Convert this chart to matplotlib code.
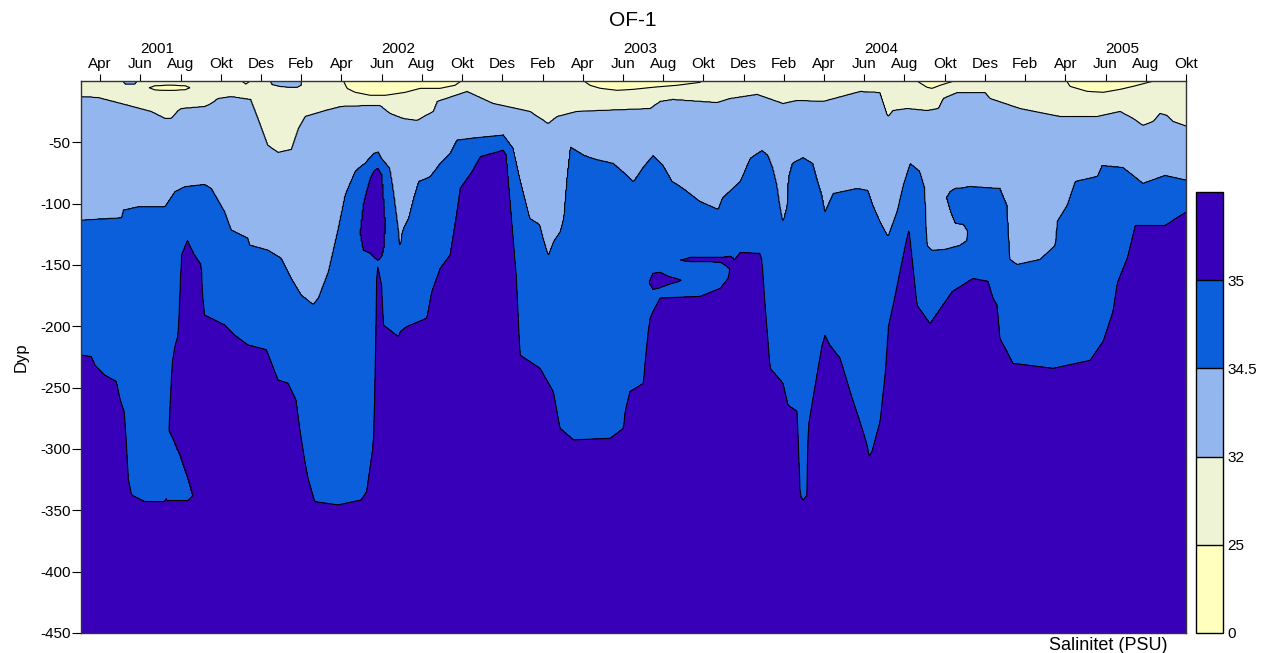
import numpy as np
import matplotlib
matplotlib.use('Agg')
import matplotlib.pyplot as plt

plt.rcParams['font.family'] = ['Liberation Sans', 'DejaVu Sans']
plt.rcParams['axes.unicode_minus'] = False

# tid: maaneder etter 1. jan 2001, dyp: meter under overflaten

# 25-isohalinen (negativ = ikke til stede ved overflaten)
t25 = [2.0, 9.9, 9.95, 10.25, 10.55, 10.6, 15.0, 15.08, 15.28, 15.68,
       16.43, 17.17, 18.17, 18.91, 19.91, 20.65, 21.05, 21.1, 26.9, 26.97,
       27.37, 27.86, 28.71, 29.5, 30.5, 31.69, 32.83, 33.0, 33.1, 43.45,
       43.53, 44.12, 44.37, 44.77, 45.67, 45.75, 50.95, 51.04, 51.23, 52.08,
       52.88, 53.72, 54.37, 55.61, 55.7, 57.1]
d25 = [-3, -3, -1, 2.5, -1, -3, -3, -1, 6.0, 9.2,
       11.7, 11.7, 9.2, 6.0, 6.0, 3.5, -1, -3, -3, -1,
       3.5, 5.9, 7.6, 6.8, 5.1, 3.5, 1.1, -1, -3, -3,
       -1, 5.1, 6.0, 3.5, -1, -3, -3, -1, 4.3, 8.4,
       9.2, 6.8, 4.3, -1, -3, -3]

# 32-isohalinen
t32 = [2.06, 2.9, 4.05, 5.54, 6.23, 6.53, 6.88, 7.03, 8.22, 8.52,
       8.87, 9.51, 10.5, 10.86, 11.35, 11.85, 12.5, 12.85, 13.19, 14.19,
       14.98, 16.33, 16.92, 17.42, 18.07, 18.76, 19.56, 19.76, 21.25, 22.54,
       24.38, 25.28, 25.72, 26.72, 27.86, 30.35, 30.85, 31.49, 33.68, 34.33,
       35.67, 36.96, 37.66, 38.95, 40.79, 41.79, 42.18, 42.43, 43.13, 44.12,
       44.67, 44.92, 45.62, 47.01, 47.26, 48.75, 50.74, 52.58, 53.72, 54.37,
       54.86, 55.36, 55.71, 56.06, 56.36, 57.05]
d32 = [12.5, 13.3, 18.2, 24.7, 30.4, 30.4, 23.9, 22.3, 20.6, 18.2,
       14.1, 12.5, 14.9, 30.4, 52.4, 58.1, 55.7, 38.6, 28.8, 23.9,
       20.6, 19.8, 19.8, 26.3, 30.4, 32.0, 24.7, 16.5, 8.4, 18.2,
       24.7, 34.5, 28.8, 24.7, 23.9, 22.3, 16.5, 14.9, 17.4, 14.1,
       10.8, 18.2, 15.7, 16.5, 8.4, 9.2, 28.8, 23.9, 22.3, 23.9,
       22.3, 14.1, 9.2, 9.2, 14.1, 22.3, 28.8, 28.8, 24.7, 30.4,
       36.1, 32.9, 26.3, 28.0, 32.9, 36.9]

# 34.5-isohalinen
t345 = [2.07, 4.06, 4.14, 4.89, 6.21, 6.71, 7.21, 8.2, 8.54, 9.2,
        9.53, 10.36, 10.44, 11.35, 12.01, 12.51, 13.01, 13.59, 13.84, 14.34,
        14.83, 15.17, 15.66, 15.93, 16.16, 16.59, 16.84, 17.0, 17.42, 17.58,
        17.75, 17.86, 17.92, 17.98, 18.08, 18.33, 18.58, 18.83, 19.41, 19.91,
        20.4, 20.74, 21.4, 23.05, 23.55, 23.88, 24.13, 24.38, 24.88, 25.04,
        25.29, 25.54, 25.87, 26.04, 26.2, 26.37, 27.03, 27.6, 28.53, 29.19,
        29.52, 30.02, 30.5, 31.0, 31.45, 31.99, 32.83, 33.73, 33.93, 34.83,
        35.32, 35.92, 36.22, 36.47, 36.67, 36.81, 36.96, 37.16, 37.21, 37.41,
        37.96, 38.45, 38.65, 38.9, 39.05, 39.45, 40.64, 41.19, 41.44, 41.79,
        42.18, 42.63, 42.93, 43.28, 43.77, 44.02, 44.12, 44.37, 45.02, 45.76,
        46.11, 46.26, 47.75, 48.1, 48.25, 48.6, 49.74, 50.49, 50.59, 51.08,
        51.48, 52.58, 52.82, 53.87, 54.37, 54.86, 55.96, 57.05]
d345 = [113.3, 111.4, 105.2, 102.4, 102.4, 90.2, 86.1, 84.2, 87.5, 106.5,
        121.5, 128.2, 133.7, 137.8, 144.5, 160.8, 174.5, 182.0, 177.1, 155.4,
        120.1, 92.9, 73.9, 69.8, 67.1, 58.9, 57.6, 63.0, 71.2, 87.5,
        109.2, 124.0, 137.8, 126.0, 120.0, 111.9, 95.6, 82.0, 77.9, 67.1,
        58.9, 48.1, 46.7, 44.0, 54.9, 79.3, 95.6, 111.9, 117.4, 128.2,
        141.8, 130.9, 122.8, 111.9, 79.3, 53.5, 60.3, 63.5, 67.1, 76.6,
        82.0, 69.8, 60.6, 68.7, 81.8, 87.5, 98.1, 104.6, 95.6, 81.8,
        63.0, 56.5, 60.6, 71.2, 85.0, 101.3, 114.4, 101.3, 79.3, 67.1,
        62.2, 67.1, 79.3, 93.2, 106.2, 91.6, 87.5, 89.1, 101.3, 114.4,
        126.6, 106.2, 85.0, 67.1, 73.6, 87.5, 134.0, 138.0, 137.2, 134.0,
        129.9, 85.9, 87.5, 101.3, 145.4, 149.5, 145.4, 134.0, 114.4, 101.3,
        81.8, 77.7, 68.7, 70.4, 76.9, 83.4, 76.9, 80.9]

# 35-isohalinen
t35 = [2.07, 2.57, 2.74, 3.23, 3.81, 3.98, 4.2, 4.31, 4.39, 4.56,
       5.22, 6.2, 6.33, 6.43, 6.58, 6.73, 6.88, 6.96, 7.04, 7.34,
       7.7, 8.04, 8.1, 8.2, 9.2, 9.69, 10.36, 11.27, 11.85, 12.35,
       12.75, 12.94, 13.19, 13.34, 13.67, 14.83, 15.99, 16.26, 16.59, 16.67,
       16.76, 16.85, 17.0, 17.09, 17.83, 17.92, 18.25, 19.24, 19.49, 19.91,
       20.4, 20.74, 20.9, 21.48, 21.9, 23.05, 23.21, 23.71, 23.88, 24.88,
       25.54, 25.87, 26.54, 28.37, 29.03, 29.11, 29.35, 30.02, 30.12, 30.25,
       30.35, 30.5, 30.85, 32.84, 33.83, 34.23, 34.33, 34.83, 35.82, 35.92,
       36.07, 36.32, 36.96, 37.21, 37.66, 37.81, 37.96, 38.16, 38.21, 38.45,
       38.9, 39.05, 39.3, 39.8, 39.95, 40.4, 40.89, 41.14, 41.24, 41.39,
       41.79, 42.05, 42.2, 42.53, 43.03, 43.23, 43.63, 44.27, 45.37, 46.41,
       47.16, 47.41, 47.61, 47.75, 48.4, 50.39, 52.23, 52.88, 53.37, 53.57,
       54.07, 54.47, 55.96, 57.05]
d35 = [223.4, 224.7, 231.5, 239.7, 245.0, 258.7, 270.0, 296.7, 323.9, 337.5,
       342.9, 342.9, 340.0, 283.0, 230.0, 215.0, 207.1, 174.5, 141.8, 129.6,
       141.8, 150.0, 174.5, 190.8, 198.9, 207.1, 215.2, 219.0, 243.7, 246.4,
       260.3, 284.8, 311.0, 323.9, 342.9, 345.6, 341.6, 334.7, 296.7, 250.5,
       150.0, 154.0, 166.3, 198.9, 208.4, 204.3, 200.2, 193.4, 171.7, 152.7,
       141.8, 106.5, 87.5, 73.9, 61.6, 56.2, 60.3, 160.8, 223.4, 234.2,
       253.2, 283.1, 292.6, 291.3, 283.1, 269.5, 253.2, 246.4, 226.0, 205.0,
       193.4, 187.7, 176.9, 175.5, 169.0, 160.8, 150.2, 139.7, 140.5, 146.2,
       182.8, 234.2, 246.4, 264.4, 269.3, 337.8, 341.8, 337.8, 283.1, 258.7,
       215.5, 207.3, 215.5, 226.1, 234.2, 258.7, 283.1, 297.0, 306.0, 301.9,
       277.4, 236.7, 200.0, 174.7, 133.9, 120.2, 182.8, 197.6, 171.5, 160.9,
       163.3, 177.1, 182.8, 209.8, 230.1, 234.2, 227.7, 212.2, 187.7, 164.9,
       144.5, 117.6, 117.6, 106.2]

# linser: (tid, topp, bunn, nivaa, +1 saltere / -1 ferskere)
lens_a = ([15.93, 16.08, 16.23, 16.43, 16.63, 16.82, 17.02, 17.12, 17.17],
          [124.0, 101.3, 90.8, 79.3, 72.8, 71.2, 76.9, 101.3, 117.6],
          [124.0, 138.0, 138.9, 140.5, 143.8, 146.2, 142.1, 134.0, 117.6], 35, 1)
lens_b = ([30.3, 30.5, 30.85, 31.25, 31.6, 31.9],
          [164.1, 156.8, 156.0, 159.3, 160.9, 162.5],
          [164.1, 169.9, 168.3, 165.8, 164.2, 162.5], 35, 1)
lens_c = ([31.84, 32.38, 33.12, 33.88, 34.33, 34.53],
          [146.2, 143.8, 143.8, 143.8, 142.9, 145.4],
          [146.2, 147.1, 147.1, 147.9, 153.0, 145.4], 35, 1)
lens_d = ([6.33, 6.58, 6.98, 7.38, 7.62],
          [283.0, 290.0, 305.0, 323.9, 338.0],
          [342.0, 342.0, 342.0, 342.0, 338.0], 35, -1)
lens_e = ([45.08, 45.27, 45.52, 45.92, 46.21, 46.36],
          [95.0, 90.0, 87.5, 87.0, 86.0, 86.0],
          [95.0, 106.0, 116.0, 117.0, 124.0, 128.0], 34.5, 1)
lens_p1 = ([3.94, 4.24, 4.74, 5.04],
           [-4.0, -4.0, -4.0, -4.0],
           [-4.0, 2.5, 2.5, -4.0], 32, 1)
lens_p2 = ([11.3, 11.55, 11.95, 12.45, 12.8, 13.0, 13.1],
           [-4.0, -4.0, -4.0, -4.0, -4.0, -4.0, -4.0],
           [-4.0, 3.0, 4.5, 5.3, 5.3, 3.5, -4.0], 32, 1)
lens_y = ([5.44, 5.73, 6.48, 7.23, 7.48],
          [5.5, 3.8, 3.3, 3.8, 5.5],
          [5.5, 7.4, 7.8, 7.2, 5.5], 25, -1)
lenses = [lens_a, lens_b, lens_c, lens_d, lens_e, lens_p1, lens_p2, lens_y]

levels = [0, 25, 32, 34.5, 35, 36]
colors = ['#FFFFBE', '#EDF3D4', '#94B6EE', '#0C5FDA', '#3800B8']
cbar_ticks = [0, 25, 32, 34.5, 35]
cbar_labels = ['0', '25', '32', '34.5', '35']

month_ticks = list(range(3, 58, 2))
month_names = ['Apr', 'Jun', 'Aug', 'Okt', 'Des', 'Feb']
month_labels = [month_names[i % 6] for i in range(len(month_ticks))]
year_pos = [5.85, 17.85, 29.85, 41.85, 53.85]
year_labels = ['2001', '2002', '2003', '2004', '2005']
depth_ticks = [-50, -100, -150, -200, -250, -300, -350, -400, -450]

# rutenett for saltholdighet
tt = np.linspace(2.05, 57.0, 1100)
zz = np.arange(0, 450.5, 0.5)

b25 = np.interp(tt, t25, d25)
b32 = np.maximum(np.interp(tt, t32, d32), b25 + 0.5)
b345 = np.maximum(np.interp(tt, t345, d345), b32 + 0.5)
b35 = np.maximum(np.interp(tt, t35, d35), b345 + 0.5)

S = np.empty((len(zz), len(tt)))
for j in range(len(tt)):
    zn = [b25[j] - 30, b25[j], b32[j], b345[j], b35[j], 600]
    sn = [10, 25, 32, 34.5, 35, 36]
    S[:, j] = np.interp(zz, zn, sn)

# linsene legges oppaa med bratt kant saa de ikke paavirker omgivelsene
for lt, ltop, lbot, lev, sgn in lenses:
    for j in np.where((tt >= lt[0]) & (tt <= lt[-1]))[0]:
        top = np.interp(tt[j], lt, ltop)
        bot = np.interp(tt[j], lt, lbot)
        mid, half = 0.5 * (top + bot), 0.5 * (bot - top)
        v = lev + sgn * np.minimum(2.0 * (half - np.abs(zz - mid)), 0.2)
        if sgn > 0:
            S[:, j] = np.maximum(S[:, j], v)
        else:
            S[:, j] = np.minimum(S[:, j], v)

fig = plt.figure(figsize=(12.66, 6.53), dpi=100)
ax = fig.add_axes([81 / 1266, 20 / 653, 1105 / 1266, 552 / 653])

cf = ax.contourf(tt, -zz, S, levels=levels, colors=colors)
ax.contour(tt, -zz, S, levels=levels[1:5], colors='k', linewidths=0.8)

ax.set_xlim(tt[0], 57.0)
ax.set_ylim(-450, 0)
ax.xaxis.tick_top()
ax.set_xticks(month_ticks, labels=month_labels)
ax.set_yticks(depth_ticks)
ax.tick_params(axis='x', length=5, pad=2, labelsize=11)
ax.tick_params(axis='y', length=6.5, pad=1, labelsize=11)
for sp in ax.spines.values():
    sp.set_color('#333333')
    sp.set_linewidth(1)
ax.set_ylabel('Dyp', fontsize=12)
ax.yaxis.set_label_coords(-0.047, 0.5)

sec = ax.secondary_xaxis('top')
sec.set_xticks(year_pos, labels=year_labels)
sec.tick_params(length=0, pad=18, labelsize=11)
sec.spines['top'].set_visible(False)

fig.text(0.5, 1 - 20 / 653, 'OF-1', ha='center', va='center', fontsize=15)

cax = fig.add_axes([1196 / 1266, 20 / 653, 27 / 1266, 441 / 653])
cb = fig.colorbar(cf, cax=cax, drawedges=True)
cb.set_ticks(cbar_ticks)
cb.set_ticklabels(cbar_labels)
cb.ax.tick_params(length=0, pad=3, labelsize=11)
cb.outline.set_linewidth(1)
cb.dividers.set_color('k')
cb.dividers.set_linewidth(1)

fig.text(1108 / 1266, 7 / 653, 'Salinitet (PSU)', ha='center', va='center', fontsize=13)

fig.savefig('out.png', dpi=100)
